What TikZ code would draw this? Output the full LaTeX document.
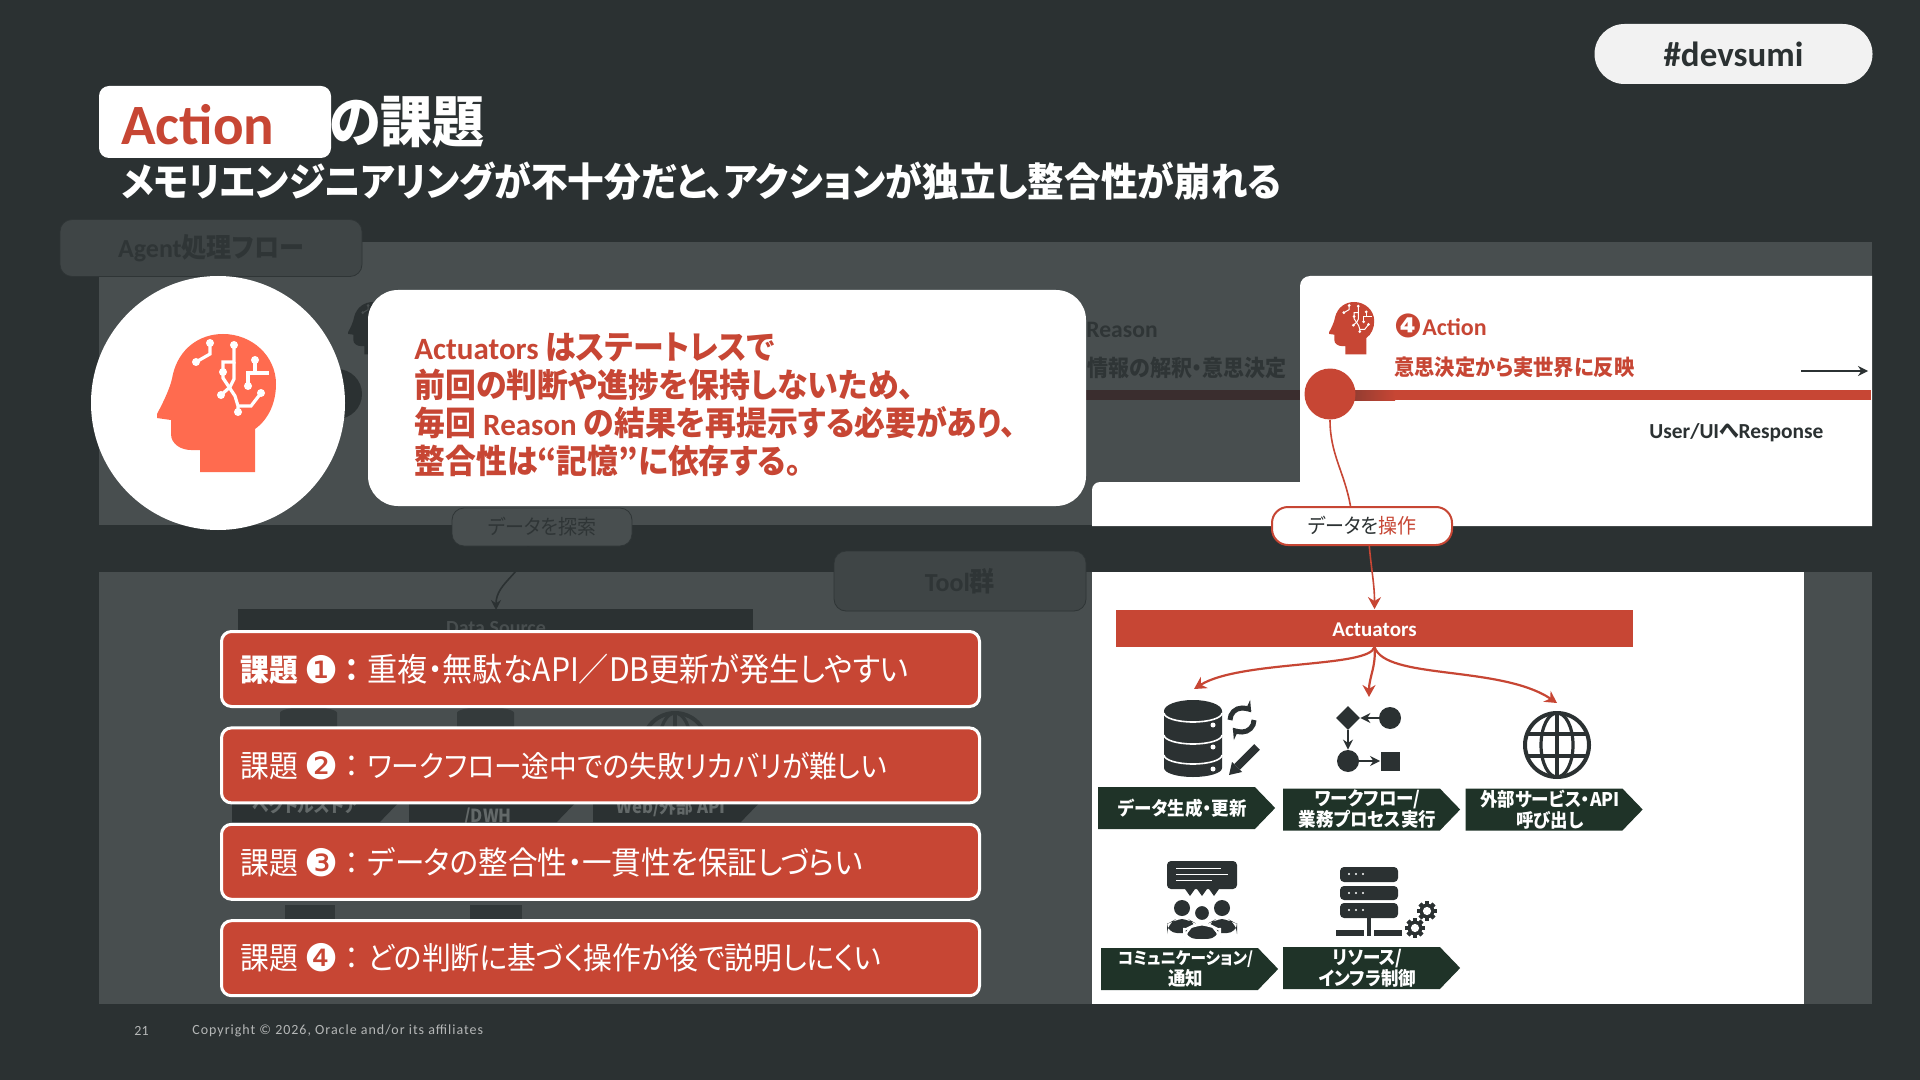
\documentclass[tikz,border=0pt]{standalone}
\usepackage{fontspec}
\setmainfont{Carlito}
\newfontfamily\jpf[RawFeature={+palt},FakeStretch=0.93]{Noto Sans CJK JP}
\newfontfamily\symf{DejaVu Sans}
\usetikzlibrary{arrows.meta,positioning,calc,shapes.geometric,shapes.symbols}
\definecolor{deckBg}{HTML}{2B3132}
\definecolor{deckPanel}{HTML}{484E4F}
\definecolor{deckTag}{HTML}{3F4546}
\definecolor{deckDim}{HTML}{2F3536}
\definecolor{deckRed}{HTML}{C74634}
\definecolor{deckCoral}{HTML}{FF6B4F}
\definecolor{deckGreen}{HTML}{1F3328}
\definecolor{deckWine}{HTML}{3A2D2E}
\newcommand{\fsz}[2]{\fontsize{#1}{#2}\selectfont}
\newcommand{\issuehead}[2]{\makebox[32pt][l]{#1課題}\makebox[20pt][l]{\raisebox{-1pt}{\symf\fsz{19}{18}#2}}\makebox[11.5pt][l]{#1{}：}}
\newcommand{\chevskip}{\hspace*{6pt}}
\tikzset{
  lbl/.style={inner sep=0pt,anchor=west},
  tagbox/.style={draw=deckDim,fill=deckTag,rounded corners=6pt,line width=.4pt,inner sep=0pt},
  issue/.style={draw=white,fill=deckRed,text=white,line width=1.5pt,rounded corners=5pt,
    minimum height=37.5pt,inner xsep=9.5pt,inner ysep=0pt,text width=360pt,align=left,
    font=\fsz{15.5}{18}\jpf},
  chev/.style={signal,signal to=east,signal pointer angle=92,fill=deckGreen,text=white,
    minimum width=88.5pt,minimum height=21pt,inner sep=0pt,align=center,
    font=\fsz{9.4}{10.5}\jpf\bfseries},
  ghostchev/.style={signal,signal to=east,signal pointer angle=92,fill=deckBg,
    minimum width=84pt,minimum height=21pt,inner sep=0pt},
  ghostlbl/.style={inner sep=0pt,text=deckPanel!85!white,font=\fsz{9}{10}\jpf\bfseries},
  ghosticon/.style={fill=deckBg!70!deckPanel},
  wfdot/.style={circle,fill=deckBg,minimum size=11pt,inner sep=0pt},
  bigtip/.style={-{Stealth[length=6pt,width=6.5pt]}},
  pics/headpic/.style n args={3}{code={
    \fill[#1] (43,138) -- (98,138) -- (98,95) .. controls (112,85) and (119,68) .. (119,50)
      .. controls (119,22) and (95,0) .. (66,0) .. controls (42,0) and (22,15) .. (16,40)
      .. controls (14,52) and (8,65) .. (0,80) -- (0,84) -- (14,86) -- (14,100)
      .. controls (14,110) and (24,116) .. (34,116) -- (43,116) -- cycle;
    \draw[#2,line width=#3] (53,9) -- (53,20) -- (39,28);
    \draw[#2,line width=#3] (77,11) -- (77,28) -- (66,28) -- (66,44) -- (78,62) -- (81,72) -- (81,78);
    \draw[#2,line width=#3] (77,28) -- (77,45) -- (73,53) -- (64,61);
    \draw[#2,line width=#3] (98,26) -- (98,39) -- (91,39) -- (91,52);
    \draw[#2,line width=#3] (98,39) -- (112,39);
    \draw[#2,line width=#3] (104,59) -- (94,72) -- (81,72);
    \foreach \dotx/\doty in {53/9,39/28,77/11,66/38,81/78,64/61,98/26,91/52,104/59}
      \fill[#2] (\dotx,\doty) circle[radius=4];
  }},
  pics/gearpic/.style={code={
    \fill[deckBg] (0,0) circle[radius=9];
    \foreach \ang in {0,45,...,315}
      \fill[deckBg,rotate=\ang] (-2.5,-12) rectangle (2.5,12);
    \fill[white] (0,0) circle[radius=5];
  }}
}
\begin{document}
\begin{tikzpicture}[x=.5pt,y=-.5pt,>={Stealth[length=5pt,width=5pt]}]
  \useasboundingbox (0,0) rectangle (1920,1080);
  \fill[deckBg] (0,0) rectangle (1920,1080);
  % panels
  \fill[deckPanel] (99,242) rectangle (1872,525);
  \fill[deckPanel] (99,572) rectangle (1872,1004);
  \node[tagbox,minimum width=151pt,minimum height=28.5pt,text=deckDim,font=\fsz{13}{15}\bfseries] (agenttag) at (211,248) {Agent{\jpf\fsz{13.5}{15}処理フロー}};
  \node[tagbox,minimum width=126pt,minimum height=30pt,text=deckDim,font=\fsz{13}{15}\bfseries] (tooltag) at (960,581) {Tool{\jpf\fsz{13.5}{15}群}};
  % dimmed flow
  \pic at (348,302) [scale=.38] {headpic={deckBg}{deckPanel}{.5pt}};
  \node[circle,fill=deckBg,minimum size=25pt,inner sep=0pt] (ghostdot) at (337,394) {};
  \node[lbl,text=deckDim,font=\fsz{11.8}{14}\bfseries] (reasonlbl) at (1086,330) {Reason};
  \node[lbl,text=deckDim,font=\fsz{11.3}{12}\jpf\bfseries] (reasonsub) at (1087,368) {情報の解釈・意思決定};
  \fill[deckWine] (1086,390) rectangle (1304,400);
  % dimmed sources
  \fill[deckBg] (238,609) rectangle (753,646);
  \node[text=deckPanel,inner sep=0pt,font=\fsz{10}{12}\bfseries] (srclbl) at (496,628) {Data Source};
  \node[tagbox,minimum width=90pt,minimum height=19pt,fill=deckPanel,text=deckDim,font=\fsz{10.2}{12}\jpf] (findlbl) at (542,527) {データを探索};
  \coordinate (srctop) at (496,610);
  \draw[->,deckBg,line width=.8pt] (findlbl.-125) to[out=-100,in=90] (srctop);
  \fill[ghosticon] (280,713) arc[x radius=28.5,y radius=6,start angle=180,end angle=360] -- (337,780) -- (280,780) -- cycle;
  \fill[ghosticon] (457,713) arc[x radius=28.5,y radius=6,start angle=180,end angle=360] -- (514,780) -- (457,780) -- cycle;
  \draw[deckBg!70!deckPanel,line width=2pt] (675,745) circle[radius=32];
  \draw[deckBg!70!deckPanel,line width=1.6pt] (675,745) ellipse[x radius=16,y radius=32];
  \draw[deckBg!70!deckPanel,line width=1.6pt] (675,713) -- (675,777);
  \node[ghostchev] (vecchev) at (306,801) {};
  \node[ghostchev] (dwhchev) at (483,801) {};
  \node[ghostchev] (webchev) at (667,801) {};
  \node[ghostlbl] (veclbl) at (306,806) {ベクトルストア};
  \node[ghostlbl] (dwhlbl) at (488,817) {/DWH};
  \node[ghostlbl] (weblbl) at (671,807) {Web/外部 API};
  \fill[deckBg!80!deckPanel] (285,905) rectangle (335,925);
  \fill[deckBg!80!deckPanel] (470,905) rectangle (522,925);
  % action panel
  \fill[white] (1092,526) [rounded corners=4pt] -- (1092,482) [sharp corners] -- (1300,482)
    [rounded corners=5pt] -- (1300,276) [sharp corners] -- (1872,276) -- (1872,526) -- cycle;
  \fill[white] (1092,572) rectangle (1804,1004);
  \fill[deckRed] (1395,390) rectangle (1871,400);
  \shade[left color=deckWine!40!deckRed,right color=deckRed] (1350,390) rectangle (1395,400);
  \node[circle,fill=deckRed,minimum size=25.5pt,inner sep=0pt] (actdot) at (1330,394) {};
  \pic at (1329,302) [scale=.38] {headpic={deckRed}{white}{.5pt}};
  \node[lbl,text=deckRed,font=\fsz{12}{14}\bfseries] (actlbl) at (1394,326) {\raisebox{-.8pt}{\symf\fsz{16.5}{14}❹}Action};
  \node[lbl,text=deckRed,font=\fsz{10.9}{12}\jpf\bfseries] (actsub) at (1394,367) {意思決定から実世界に反映};
  \coordinate (respfrom) at (1801,371);
  \coordinate (respto) at (1868,371);
  \draw[->,deckBg,line width=1pt] (respfrom) -- (respto);
  \node[lbl,text=deckBg,font=\fsz{10.7}{13}\bfseries] (resplbl) at (1649,433) {User/UI{\jpf へ}Response};
  % operate link
  \node[draw=deckRed,fill=white,line width=1pt,rounded corners=8pt,minimum width=90pt,minimum height=19pt,inner sep=0pt,text=deckBg,font=\fsz{10.2}{12}\jpf] (opdata) at (1362,526) {データを\textcolor{deckRed}{操作}};
  \draw[deckRed,line width=.8pt] (actdot.south) to[out=-90,in=100] (opdata.120);
  \node[fill=deckRed,text=white,minimum width=258.5pt,minimum height=18.5pt,inner sep=0pt,text height=9pt,font=\fsz{10.5}{12}\bfseries] (actuators) at (1374.5,628) {Actuators};
  \draw[bigtip,deckRed,line width=.8pt] (opdata.-70) to[out=-85,in=90] (actuators.north);
  \coordinate (todb) at (1194,689);
  \coordinate (towf) at (1369,697);
  \coordinate (toweb) at (1557,703);
  \draw[bigtip,deckRed,line width=1.1pt] (actuators.south) .. controls (1370,668) and (1240,660) .. (todb);
  \draw[bigtip,deckRed,line width=1.1pt] (actuators.south) to[out=-85,in=90] (towf);
  \draw[bigtip,deckRed,line width=1.1pt] (actuators.south) .. controls (1385,680) and (1500,665) .. (toweb);
  % database icon
  \fill[deckBg] (1164,711) -- (1164,768) arc[x radius=29,y radius=9,start angle=180,end angle=0]
    -- (1222,711) arc[x radius=29,y radius=11,start angle=0,end angle=-180] -- cycle;
  \draw[white,line width=.8pt] (1164,713) arc[x radius=29,y radius=9,start angle=180,end angle=0];
  \draw[white,line width=.8pt] (1164,735) arc[x radius=29,y radius=9,start angle=180,end angle=0];
  \draw[white,line width=.8pt] (1164,755) arc[x radius=29,y radius=9,start angle=180,end angle=0];
  \fill[white] (1213,725) circle[radius=2.5];
  \fill[white] (1213,747) circle[radius=2.5];
  \fill[white] (1213,769) circle[radius=2.5];
  \draw[deckBg,line width=2.5pt,-{Stealth[length=5pt,width=7pt]}] (1230,720) arc[radius=12,start angle=180,end angle=320];
  \draw[deckBg,line width=2.5pt,-{Stealth[length=5pt,width=7pt]}] (1254,720) arc[radius=12,start angle=0,end angle=140];
  \draw[deckBg,line width=4pt] (1237,767) -- (1257,747);
  \fill[deckBg] (1229,775) -- (1232,762) -- (1242,772) -- cycle;
  % workflow icon
  \node[wfdot] (wfa) at (1390,718) {};
  \node[diamond,fill=deckBg,minimum size=12pt,inner sep=0pt] (wfb) at (1348,718) {};
  \node[wfdot] (wfc) at (1348,761) {};
  \node[fill=deckBg,minimum size=9.5pt,inner sep=0pt] (wfd) at (1390,761) {};
  \draw[->,deckBg,line width=1.2pt] (wfa) -- (wfb);
  \draw[->,deckBg,line width=1.2pt] (wfb) -- (wfc);
  \draw[->,deckBg,line width=1.2pt] (wfc) -- (wfd);
  % globe icon
  \draw[deckBg,line width=2pt] (1557,745) circle[radius=32];
  \draw[deckBg,line width=1.6pt] (1557,745) ellipse[x radius=16,y radius=32];
  \draw[deckBg,line width=1.6pt] (1557,713) -- (1557,777);
  \draw[deckBg,line width=1.6pt] (1527,734) -- (1587,734);
  \draw[deckBg,line width=1.6pt] (1527,756) -- (1587,756);
  % people icon
  \fill[deckBg,rounded corners=2pt] (1167,861) rectangle (1237,889);
  \fill[deckBg] (1185,889) -- (1195,889) -- (1190,896) -- cycle;
  \fill[deckBg] (1197,889) -- (1207,889) -- (1202,896) -- cycle;
  \fill[deckBg] (1209,889) -- (1219,889) -- (1214,896) -- cycle;
  \draw[white,line width=.5pt] (1176,868) -- (1221,868);
  \draw[white,line width=.5pt] (1176,874) -- (1228,874);
  \draw[white,line width=.5pt] (1176,880) -- (1212,880);
  \fill[deckBg] (1182,908) circle[radius=8];
  \fill[deckBg] (1222,908) circle[radius=8];
  \fill[deckBg,rounded corners=5pt] (1167,933) -- (1167,924) -- (1176,919) -- (1188,919) -- (1197,924) -- (1197,933) -- cycle;
  \fill[deckBg,rounded corners=5pt] (1207,933) -- (1207,924) -- (1216,919) -- (1228,919) -- (1237,924) -- (1237,933) -- cycle;
  \draw[white,line width=1pt,fill=deckBg] (1202,913) circle[radius=8];
  \draw[white,line width=1pt,fill=deckBg,rounded corners=6pt] (1184,940) -- (1184,930) -- (1196,924) -- (1208,924) -- (1220,930) -- (1220,940) -- cycle;
  % server icon
  \fill[deckBg,rounded corners=2pt] (1340,867) rectangle (1398,882);
  \fill[deckBg,rounded corners=2pt] (1340,886) rectangle (1398,900);
  \fill[deckBg,rounded corners=2pt] (1340,903) rectangle (1398,918);
  \foreach \rowy in {874,893,910}
    \foreach \colx in {1349,1356,1363}
      \fill[white] (\colx,\rowy) circle[radius=1.2];
  \fill[deckBg] (1367,918) rectangle (1371,930);
  \fill[deckBg] (1336,930) rectangle (1364,936);
  \fill[deckBg] (1367,930) rectangle (1371,936);
  \fill[deckBg] (1374,930) rectangle (1402,936);
  \pic at (1427,911) [scale=.82] {gearpic};
  \pic at (1415,928) [scale=.82] {gearpic};
  % capability labels
  \node[chev] (genchev) at (1176.5,808) {\chevskip データ生成・更新};
  \node[chev] (wfchev) at (1361.5,809.5) {\chevskip ワークフロー/\\\chevskip 業務プロセス実行};
  \node[chev] (webcall) at (1544,809.5) {\chevskip 外部サービス・API\\\chevskip 呼び出し};
  \node[chev] (comchev) at (1179.5,969) {\chevskip{\fsz{8.4}{10.5}コミュニケーション/}\\\chevskip 通知};
  \node[chev] (infchev) at (1361.5,968) {\chevskip リソース/\\\chevskip インフラ制御};
  % issues
  \node[issue] (kadai1) at (600.5,669) {\issuehead{\bfseries}{❶}{\fsz{16.2}{18}重複・無駄なAPI／DB更新が発生しやすい}};
  \node[issue,below=9.2pt of kadai1] (kadai2) {\issuehead{}{❷}{\fsz{14.9}{18}ワークフロー途中での失敗リカバリが難しい}};
  \node[issue,below=9.2pt of kadai2] (kadai3) {\issuehead{}{❸}{\fsz{15.9}{18}データの整合性・一貫性を保証しづらい}};
  \node[issue,below=9.2pt of kadai3] (kadai4) {\issuehead{}{❹}どの判断に基づく操作か後で説明しにくい};
  % callout
  \node[circle,fill=white,minimum size=127pt,inner sep=0pt] (headdisc) at (218,403) {};
  \pic at (157,334) {headpic={deckCoral}{white}{1.6pt}};
  \node[fill=white,rounded corners=15pt,minimum width=359pt,minimum height=108pt,inner sep=0pt] (bubble) at (727,398) {};
  \node[lbl,align=left,text=deckRed,font=\fsz{16.6}{19}\jpf\bfseries] (bubbletxt) at (414,405) {{\normalfont\bfseries\fsz{15.5}{19}Actuators} はステートレスで\\前回の判断や進捗を保持しないため、\\毎回 {\normalfont\bfseries\fsz{15.5}{19}Reason} の結果を再提示する必要があり、\\整合性は“記憶”に依存する。};
  % title
  \node[fill=white,rounded corners=5pt,minimum width=116pt,minimum height=36pt,inner sep=0pt] (titlebox) at (215,122) {};
  \node[lbl,text=deckRed,font=\fsz{28.5}{32}\bfseries] (titleact) at (121,125) {Action};
  \node[lbl,text=white,font=\fsz{28}{30}\jpf\bfseries] (titlejp) at (329,122) {の課題};
  \node[lbl,text=white,font=\fsz{19.7}{22}\jpf\bfseries] (subtitle) at (121,181) {メモリエンジニアリングが不十分だと、アクションが独立し整合性が崩れる};
  \node[fill=white!95!black,rounded corners=15pt,minimum width=139pt,minimum height=30pt,inner sep=0pt,text=deckBg,font=\fsz{17.5}{20}\bfseries] (hashtag) at (1733.5,54) {\#devsumi};
  % footer
  \node[lbl,text=white!65!deckBg,font=\fsz{7}{9}] (pageno) at (134,1031) {21};
  \node[lbl,text=white!65!deckBg,font=\fsz{7}{9}\addfontfeatures{LetterSpace=7}] (copyr) at (192,1031) {Copyright © 2026, Oracle and/or its affiliates};
\end{tikzpicture}
\end{document}
